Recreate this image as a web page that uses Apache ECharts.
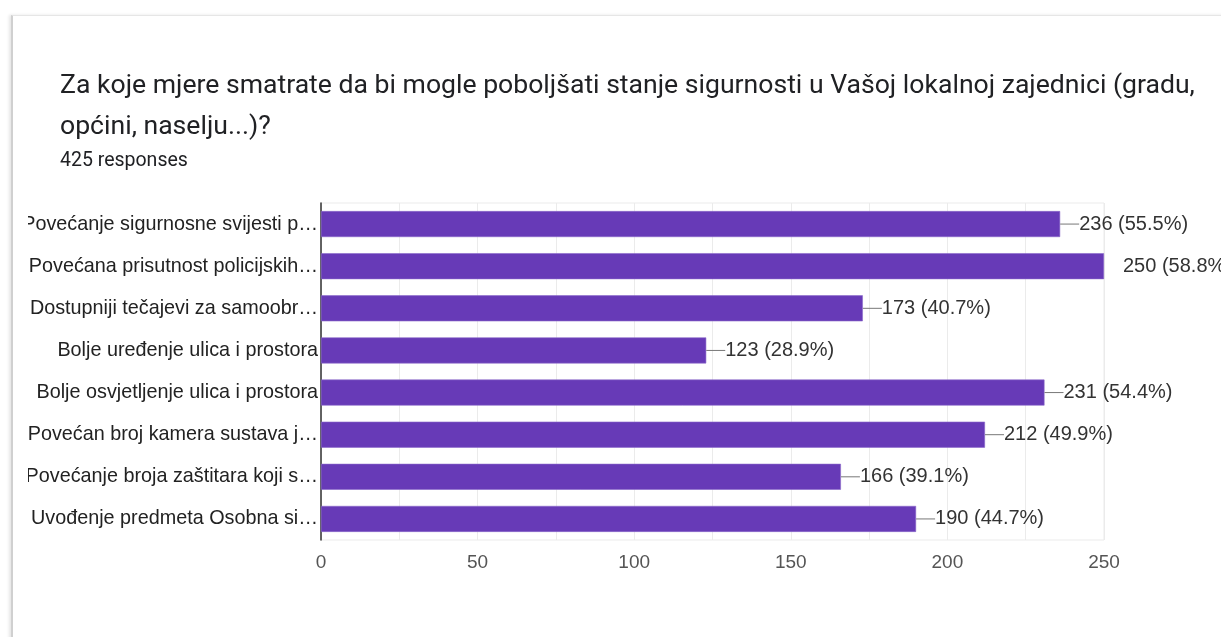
<!DOCTYPE html>
<html><head><meta charset="utf-8">
<script src="https://cdn.jsdelivr.net/npm/echarts@6/dist/echarts.min.js"></script>
<style>
html,body{margin:0;padding:0;background:#fff;overflow:hidden}
#card{position:absolute;left:11px;top:15px;width:1240px;height:660px;background:#fff;border-left:2px solid #d0d0d0;border-top:1px solid #e6e6e6;box-shadow:-2px 0 3px rgba(0,0,0,0.10)}
#chart{position:absolute;left:28px;top:0;width:1193px;height:637px}
</style></head>
<body>
<div id="card"></div>
<div id="chart"></div>
<script>
const titleText = 'Za koje mjere smatrate da bi mogle poboljšati stanje sigurnosti u Vašoj lokalnoj zajednici (gradu,\nopćini, naselju...)?';
const subText = '425 responses';
const totalResponses = 425;
const categories = [
  'Povećanje sigurnosne svijesti p…',
  'Povećana prisutnost policijskih…',
  'Dostupniji tečajevi za samoobr…',
  'Bolje uređenje ulica i prostora',
  'Bolje osvjetljenje ulica i prostora',
  'Povećan broj kamera sustava j…',
  'Povećanje broja zaštitara koji s…',
  'Uvođenje predmeta Osobna si…'
];
const counts = [236, 250, 173, 123, 231, 212, 166, 190];
const xTicks = [0, 50, 100, 150, 200, 250];

const chart = echarts.init(document.getElementById('chart'));
chart.setOption({
  animation: false,
  title: {
    text: titleText,
    subtext: subText,
    left: 32, top: 66, padding: 0,
    itemGap: 3,
    textStyle: {fontFamily: 'Roboto', fontSize: 26.6, fontWeight: 'normal', color: '#202124', lineHeight: 41},
    subtextStyle: {fontFamily: 'Roboto', fontSize: 19.5, color: '#202124', lineHeight: 20}
  },
  grid: {left: 293, right: 117, top: 203, bottom: 97, show: true, borderColor: '#ebebeb', borderWidth: 1, containLabel: false, outerBoundsMode: 'none'},
  xAxis: {
    type: 'value', min: 0, max: 250, interval: 25,
    axisLine: {show: false}, axisTick: {show: false},
    splitLine: {show: true, lineStyle: {color: '#ebebeb', width: 1}},
    axisLabel: {
      margin: 13, color: '#555', fontFamily: 'Arial', fontSize: 19,
      formatter: v => xTicks.includes(v) ? String(v) : ''
    }
  },
  yAxis: {
    type: 'category', data: categories, inverse: true,
    axisLine: {show: true, lineStyle: {color: '#333', width: 1.5}},
    axisTick: {show: false},
    axisLabel: {margin: 3, color: '#222', fontFamily: 'Arial', fontSize: 19.8}
  },
  series: [{
    type: 'bar', data: counts, barWidth: 26,
    itemStyle: {color: '#673ab7', borderColor: '#8a68c9', borderWidth: 0.6},
    label: {
      show: true, position: 'right', distance: 0,
      formatter: p => {
        const pct = (p.value / totalResponses * 100).toFixed(1);
        const leader = p.value === Math.max(...counts) ? 'n' : 'l';
        return '{' + leader + '|}{t|' + p.value + ' (' + pct + '%)}';
      },
      rich: {
        l: {width: 19, height: 1, backgroundColor: '#777'},
        n: {width: 19, height: 1},
        t: {fontFamily: 'Arial', fontSize: 20, color: '#333'}
      }
    }
  }]
});
</script>
</body></html>
